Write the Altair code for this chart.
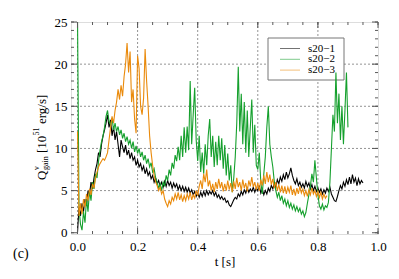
import altair as alt
import pandas as pd
import numpy as np

names = ["s20\u22121", "s20\u22122", "s20\u22123"]
colors = ["#000000", "#15a02d", "#ea8a0b"]
dt = 0.005

s1 = [0, 3.0, 2.0, 3.5, 2.5, 4.0, 3.2, 5.0, 4.5, 6.0,
      5.2, 6.5, 7.5, 8.2, 9.5, 9.0, 10.5, 11.5, 12.2, 13.0,
      14.0, 12.5, 13.4, 11.5, 12.6, 11.0, 12.0, 10.5, 9.0, 11.0,
      10.2, 9.5, 10.4, 9.2, 9.8, 8.8, 9.5, 8.6, 9.0, 8.0,
      8.6, 7.8, 8.2, 7.4, 7.9, 7.0, 7.6, 6.8, 7.2, 6.4,
      6.8, 6.0, 6.5, 5.8, 6.2, 5.5, 6.0, 5.4, 6.1, 5.5,
      6.2, 5.6, 6.0, 5.3, 5.9, 5.4, 5.8, 5.1, 5.6, 5.0,
      5.5, 4.9, 5.4, 4.8, 5.3, 4.7, 5.1, 4.5, 4.9, 4.3,
      4.7, 4.2, 4.8, 4.3, 4.9, 4.4, 5.0, 4.5, 4.9, 4.6,
      5.0, 4.4, 4.8, 4.2, 4.5, 4.0, 4.3, 3.9, 4.1, 3.6,
      3.8, 3.3, 3.1, 3.5, 3.9, 4.2, 4.0, 4.6, 4.3, 4.9,
      4.5, 5.1, 4.7, 5.3, 4.8, 5.2, 4.9, 5.4, 4.8, 5.3,
      5.0, 5.6, 4.7, 5.2, 4.5, 5.0, 4.6, 5.3, 4.9, 5.6,
      5.2, 5.9, 5.4, 6.3, 5.8, 6.6, 6.1, 6.9, 6.3, 7.2,
      6.5, 7.0, 7.7, 6.8, 6.2, 5.8, 6.4, 5.6, 6.0, 5.4,
      5.8, 5.3, 6.1, 5.5, 5.9, 5.2, 5.7, 5.0, 5.5, 4.9,
      5.3, 4.8, 5.2, 4.6, 5.1, 4.7, 5.3, 4.9, 5.4, 4.6,
      4.2, 3.8, 3.7, 4.3, 5.0, 5.6, 5.2, 6.0, 5.5, 6.3,
      5.7, 6.6, 5.8, 6.9, 6.0, 6.5, 5.6, 6.4, 5.8, 6.2,
      5.9]

s2 = [26.0, 3.0, 1.0, 0.3, 2.5, 1.2, 4.0, 2.5, 5.0, 3.8,
      6.0, 5.2, 7.0, 6.5, 8.5, 9.8, 10.8, 11.5, 12.5, 13.8,
      14.5, 13.2, 12.8, 13.6, 12.2, 13.0, 12.0, 12.6, 11.6, 12.2,
      11.2, 11.8, 10.8, 11.4, 10.5, 11.0, 10.0, 10.8, 9.6, 10.3,
      9.4, 10.0, 9.0, 9.6, 8.6, 9.2, 8.2, 8.8, 7.8, 8.3,
      7.2, 7.6, 6.5, 6.0, 5.3, 5.8, 5.0, 6.0, 5.5, 6.8,
      6.2, 7.5, 6.8, 8.3, 7.6, 9.2, 8.5, 10.2, 8.6, 11.5,
      9.0, 12.5, 9.5, 12.6, 9.8, 18.0, 10.5, 14.0, 17.2, 11.0,
      8.5, 11.5, 7.2, 9.5, 7.0, 10.5, 8.0, 11.5, 13.5, 9.0,
      11.5, 7.8, 10.8, 8.0, 11.5, 8.6, 11.2, 7.6, 10.4, 6.8,
      9.4, 6.2, 8.0, 4.8, 6.5, 9.0, 13.0, 19.7, 12.0, 16.5,
      10.5, 15.5, 9.5, 14.5, 9.0, 12.5, 15.8, 9.5, 12.8, 8.0,
      7.5, 9.5, 6.0, 4.6, 7.0, 9.0, 12.5, 15.0, 10.5, 9.0,
      7.8, 6.0, 5.0, 4.2, 4.8, 3.8, 4.4, 3.5, 4.0, 3.2,
      3.8, 3.0, 3.5, 2.8, 3.3, 2.6, 3.1, 2.5, 2.9, 2.2,
      2.6, 1.9, 2.4, 3.5, 4.5, 5.5, 7.0, 6.0, 8.6, 6.5,
      4.5, 3.2, 2.8, 3.4, 2.7, 3.2, 3.0, 3.6, 6.0, 10.0,
      14.0, 12.0, 19.0, 13.0, 16.5, 11.0, 15.0, 10.5, 14.5, 19.0,
      12.5]

s3 = [12.0, 2.0, 3.5, 2.2, 4.0, 3.0, 4.6, 3.8, 5.2, 4.5,
      5.8, 5.3, 6.5, 7.2, 7.8, 8.2, 8.5, 8.8, 8.6, 9.0,
      9.5, 11.0, 12.5, 13.8, 13.0, 14.5, 15.5, 17.0, 15.8, 17.5,
      16.2, 18.5, 20.0, 22.5, 19.0, 21.5, 15.5, 17.0, 13.5, 11.8,
      21.0, 19.5, 15.0, 14.0, 16.0, 21.8, 18.0, 15.0, 11.5, 9.5,
      8.0, 6.8, 6.0, 5.6, 5.0, 5.4, 4.6, 5.0, 4.0, 3.5,
      3.1, 3.8, 3.4, 4.2, 3.8, 4.6, 4.0, 4.8, 3.9, 4.5,
      3.7, 4.4, 3.8, 4.6, 4.0, 4.8, 3.9, 4.5, 4.1, 5.0,
      4.4, 5.5, 6.2, 5.2, 7.0, 6.0, 7.5, 5.5, 6.2, 5.0,
      5.8, 4.8, 6.0, 5.2, 6.4, 5.3, 6.0, 4.9, 5.8, 5.0,
      6.2, 5.1, 5.9, 4.8, 6.1, 5.2, 6.5, 5.4, 6.0, 5.0,
      6.3, 5.3, 5.9, 4.9, 6.2, 5.5, 6.6, 5.4, 6.0, 5.1,
      5.9, 5.0, 6.3, 5.6, 6.8, 5.8, 7.2, 6.0, 6.9, 5.7,
      6.4, 5.3, 6.0, 5.0, 5.7, 4.8, 5.6, 4.7, 5.5, 4.6,
      5.4, 4.8, 5.6, 4.5, 5.2, 4.4, 5.3, 4.6, 5.5, 4.7,
      5.2, 4.4, 5.0, 4.3, 5.1, 4.5, 5.3, 4.6, 5.0, 4.3,
      4.9, 4.2, 4.8, 4.0, 4.6, 4.1, 4.4]

x_major = [0.0, 0.2, 0.4, 0.6, 0.8, 1.0]
y_major = [0, 5, 10, 15, 20, 25]
x_grid = [0.0, 0.2, 0.4, 0.6, 0.8]
y_grid = [5, 10, 15, 20]
x_minor = [round(0.05 * i, 2) for i in range(21)]
y_minor = list(range(26))

W, H = 307, 212
FONT = "Liberation Serif, Times New Roman, serif"
FRAME = "#5a5a5a"

xscale = alt.Scale(domain=[-0.0216, 1.0], nice=False, zero=False)
yscale = alt.Scale(domain=[-0.15, 25], nice=False, zero=False)

xaxis = alt.Axis(
    values=x_major, format=".1f", grid=False, ticks=False, tickSize=0, domain=False,
    labelFont=FONT, labelFontSize=13, labelColor="black", labelPadding=6,
    labelFlush=False, title="t [s]", titleFont=FONT, titleFontSize=13,
    titleFontWeight="normal", titleColor="black", titlePadding=2)
yaxis = alt.Axis(
    values=y_major, grid=False, ticks=False, tickSize=0, domain=False,
    labelFont=FONT, labelFontSize=13, labelColor="black", labelPadding=4,
    labelFlush=False, title="")


def X():
    return alt.X("t:Q", scale=xscale, axis=xaxis)


def Y():
    return alt.Y("v:Q", scale=yscale, axis=yaxis)


def frame(vals):
    return pd.DataFrame({"t": np.round(np.arange(len(vals)) * dt, 3), "v": vals})


one = pd.DataFrame({"a": [0]})
layers = []

# grid
layers.append(alt.Chart(pd.DataFrame({"t": x_grid})).mark_rule(
    color="#777777", strokeDash=[2, 2], strokeWidth=0.8).encode(x=X()))
layers.append(alt.Chart(pd.DataFrame({"v": y_grid})).mark_rule(
    color="#777777", strokeDash=[2, 2], strokeWidth=0.8).encode(y=Y()))

# legend box
layers.append(alt.Chart(one).mark_rect(fill="white", stroke="#777777", strokeWidth=1).encode(
    x=alt.value(197), x2=alt.value(273), y=alt.value(16), y2=alt.value(58)))

# series
for vals, c in zip([s1, s2, s3], colors):
    layers.append(alt.Chart(frame(vals)).mark_line(color=c, strokeWidth=1.1, clip=True).encode(
        x=X(), y=Y()))

# inward ticks
dxm = pd.DataFrame({"t": x_minor})
dxM = pd.DataFrame({"t": x_major})
dym = pd.DataFrame({"v": y_minor})
dyM = pd.DataFrame({"v": y_major})
tk = dict(color=FRAME, strokeWidth=1)
for d, L in [(dxm, 3), (dxM, 6)]:
    layers.append(alt.Chart(d).mark_rule(**tk).encode(x=X(), y=alt.value(H), y2=alt.value(H - L)))
    layers.append(alt.Chart(d).mark_rule(**tk).encode(x=X(), y=alt.value(0), y2=alt.value(L)))
for d, L in [(dym, 3), (dyM, 6)]:
    layers.append(alt.Chart(d).mark_rule(**tk).encode(y=Y(), x=alt.value(0), x2=alt.value(L)))
    layers.append(alt.Chart(d).mark_rule(**tk).encode(y=Y(), x=alt.value(W), x2=alt.value(W - L)))

# legend entries
for i, (n, c) in enumerate(zip(names, colors)):
    yy = 26.5 + 10.8 * i
    layers.append(alt.Chart(one).mark_rule(color=c, strokeWidth=1, opacity=0.55).encode(
        x=alt.value(209), x2=alt.value(229), y=alt.value(yy)))
    layers.append(alt.Chart(one).mark_text(
        text=n, font=FONT, fontSize=11, align="left", baseline="middle", color="black").encode(
        x=alt.value(237), y=alt.value(yy)))


# y-axis title pieces
def ytext(txt, x, y, size):
    return alt.Chart(one).mark_text(
        text=txt, font=FONT, fontSize=size, angle=270, align="left",
        baseline="middle", color="black").encode(x=alt.value(x), y=alt.value(y))


layers.append(ytext("Q", -29.5, 158, 13))
layers.append(ytext("\u03bd", -34, 148, 8))
layers.append(ytext("gain", -25, 148, 8))
layers.append(ytext("[10", -29.5, 131, 13))
layers.append(ytext("51", -34, 113.5, 8))
layers.append(ytext("erg/s]", -29.5, 102, 13))

# panel label
layers.append(alt.Chart(one).mark_text(
    text="(c)", font=FONT, fontSize=14, align="left", baseline="middle", color="black").encode(
    x=alt.value(-58), y=alt.value(232)))

chart = alt.layer(*layers).properties(
    width=W, height=H,
    autosize=alt.AutoSizeParams(type="none"),
    padding={"left": 63, "top": 14, "right": 12, "bottom": 37},
).configure_view(stroke=FRAME, strokeWidth=1).configure_axis(
    labelFont=FONT, titleFont=FONT, labelFontSize=13, titleFontSize=13,
    labelColor="black", titleColor="black", titleFontWeight="normal"
).configure(background="white", font=FONT)

chart.save("out.html", embed_options={"renderer": "svg", "actions": False})
